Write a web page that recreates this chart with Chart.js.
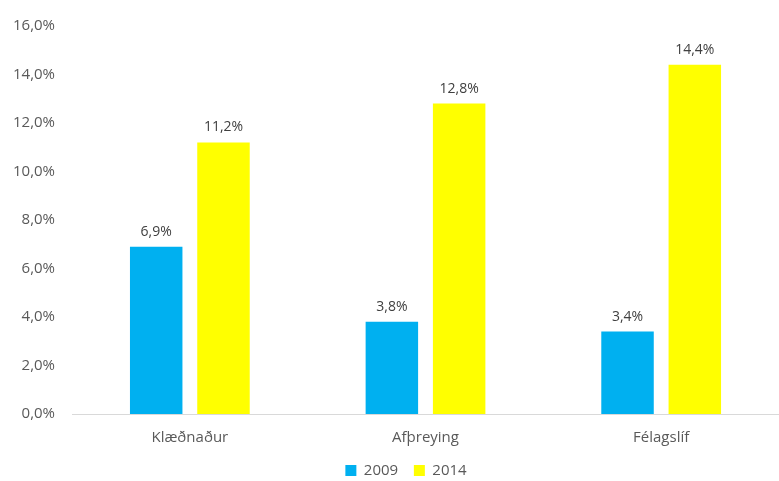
<!DOCTYPE html>
<html>
<head>
<meta charset="utf-8">
<script src="https://cdn.jsdelivr.net/npm/chart.js@4"></script>
<style>
  html, body { margin: 0; padding: 0; background: #fff; }
  #wrap { width: 779px; height: 481px; }
</style>
</head>
<body>
<div id="wrap"><canvas id="chart" width="779" height="481"></canvas></div>
<script>
var categories = ['Klæðnaður', 'Afþreying', 'Félagslíf'];
var values2009 = [6.9, 3.8, 3.4];
var values2014 = [11.2, 12.8, 14.4];
var seriesNames = ['2009', '2014'];

function pct(v) {
    return v.toFixed(1).replace('.', ',') + '%';
}

// draws the value above each bar
var barLabels = {
    id: 'barLabels',
    afterDatasetsDraw: function(chart) {
        var ctx = chart.ctx;
        ctx.save();
        ctx.font = '14px "Open Sans"';
        ctx.fillStyle = '#404040';
        ctx.textAlign = 'center';
        ctx.textBaseline = 'bottom';
        chart.data.datasets.forEach(function(ds, i) {
            chart.getDatasetMeta(i).data.forEach(function(bar, j) {
                ctx.fillText(pct(ds.data[j]), bar.x, bar.y - 8);
            });
        });
        ctx.restore();
    }
};

var ctx = document.getElementById('chart').getContext('2d');
new Chart(ctx, {
    type: 'bar',
    data: {
        labels: categories,
        datasets: [{
            label: seriesNames[0],
            data: values2009,
            backgroundColor: '#00B0F0',
            categoryPercentage: 0.571,
            barPercentage: 0.78
        }, {
            label: seriesNames[1],
            data: values2014,
            backgroundColor: '#FFFF00',
            categoryPercentage: 0.571,
            barPercentage: 0.78
        }]
    },
    options: {
        responsive: false,
        animation: false,
        layout: { padding: { top: 10, right: 0, left: -4, bottom: -7 } },
        plugins: {
            legend: {
                position: 'bottom',
                fullSize: false,
                labels: {
                    boxWidth: 11,
                    boxHeight: 11,
                    padding: 4,
                    color: '#595959',
                    font: { family: 'Open Sans', size: 15 },
                    generateLabels: function(chart) {
                        var items = Chart.defaults.plugins.legend.labels.generateLabels(chart);
                        // extra spacing like the original legend
                        items[0].text += '   ';
                        items[1].text += '          ';
                        return items;
                    }
                }
            },
            tooltip: { enabled: false }
        },
        scales: {
            x: {
                grid: { display: false, drawTicks: false },
                border: { color: '#D9D9D9' },
                afterFit: function(scale) { scale.height -= 3; },
                ticks: {
                    padding: 15,
                    color: '#595959',
                    font: { family: 'Open Sans', size: 15 }
                }
            },
            y: {
                min: 0,
                max: 16,
                grid: { display: false, drawTicks: false },
                border: { display: false },
                ticks: {
                    stepSize: 2,
                    padding: 17,
                    color: '#595959',
                    font: { family: 'Open Sans', size: 15 },
                    callback: function(v) { return pct(v); }
                }
            }
        }
    },
    plugins: [barLabels]
});
</script>
</body>
</html>
